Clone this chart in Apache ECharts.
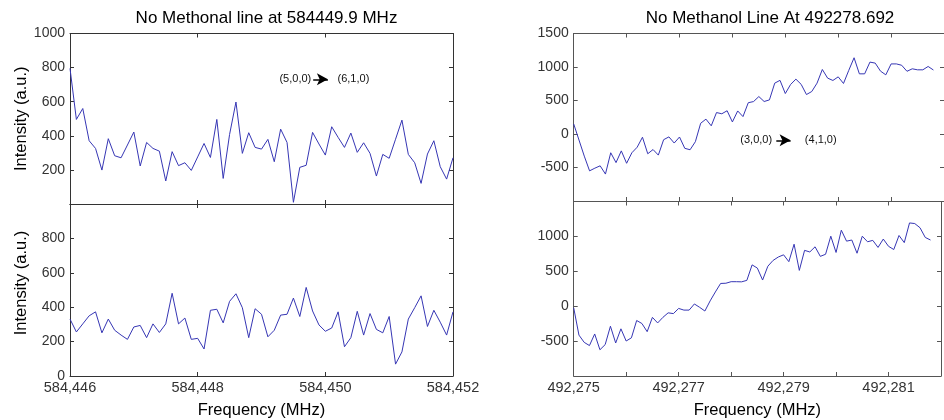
<!DOCTYPE html>
<html>
<head>
<meta charset="utf-8">
<script src="https://cdn.jsdelivr.net/npm/echarts@6/dist/echarts.min.js"></script>
<style>
  html, body { margin: 0; padding: 0; background: #fff; }
  #chart { width: 944px; height: 420px; }
</style>
</head>
<body>
<div id="chart"></div>
<script>
// Spectra sampled every 0.1 MHz, starting at the first channel of each band.
const channelStep = 0.1;
const band584Start = 584446;
const band492Start = 492275;

// 584 GHz band, upper and lower spectra (intensity, a.u.)
const band584Upper = [
  795, 496, 560, 371, 326, 199, 383, 283, 271, 346,
  422, 223, 361, 326, 310, 135, 307, 225, 242, 197,
  276, 355, 273, 496, 150, 408, 598, 297, 418, 332,
  322, 379, 248, 439, 361, 10, 215, 227, 420, 352,
  287, 453, 391, 332, 416, 303, 359, 297, 164, 291,
  268, 380, 492, 291, 242, 121, 293, 371, 219, 146,
  271
];
const band584Lower = [
  331, 256, 303, 350, 373, 251, 331, 266, 238, 213,
  285, 294, 223, 303, 253, 303, 481, 303, 337, 213,
  219, 157, 382, 388, 309, 434, 478, 397, 223, 391,
  359, 228, 266, 354, 359, 453, 346, 515, 378, 297,
  260, 279, 373, 170, 223, 376, 238, 363, 271, 251,
  346, 69, 140, 331, 397, 466, 288, 382, 313, 238,
  373
];

// 492 GHz band, upper and lower spectra (intensity, a.u.)
const band492Upper = [
  150, -90, -330, -550, -510, -475, -598, -280, -427, -252,
  -437, -280, -197, -48, -295, -232, -315, -85, -43, -135,
  -45, -214, -235, -115, 160, 222, 122, 320, 302, 347,
  180, 344, 260, 467, 484, 559, 485, 509, 759, 801,
  604, 739, 819, 741, 589, 634, 759, 963, 834, 799,
  853, 754, 950, 1138, 898, 898, 1073, 1058, 938, 883,
  1046, 1046, 1026, 936, 973, 958, 958, 1008, 955
];
const band492Lower = [
  -23, -414, -518, -564, -398, -624, -550, -287, -527, -324,
  -499, -453, -205, -248, -365, -160, -240, -160, -95, -106,
  -32, -56, -56, 32, -16, -69, 76, 204, 326, 329,
  351, 351, 349, 370, 592, 546, 375, 573, 656, 705,
  736, 638, 888, 513, 800, 777, 851, 714, 744, 1003,
  770, 1089, 932, 948, 759, 1003, 923, 943, 842, 962,
  858, 812, 1013, 911, 1193, 1184, 1124, 985, 948
];

// Axis ranges
const band584Range = [584446, 584452];
const band492Range = [492275, 492282];
const band584Intensity = [0, 1000];
const band492Intensity = [-1000, 1500];

const titles = ['No Methonal line at 584449.9 MHz', 'No Methanol Line At 492278.692'];
const transitions = [['(5,0,0)', '(6,1,0)'], ['(3,0,0)', '(4,1,0)']];
const yName = 'Intensity (a.u.)';
const xName = 'Frequency (MHz)';

function toPairs(start, vals) {
  return vals.map((v, i) => [+(start + i * channelStep).toFixed(1), v]);
}
function withComma(v) {
  const s = String(Math.round(v));
  return s.slice(0, -3) + ',' + s.slice(-3);
}

const FONT = '"Liberation Sans", Arial, Helvetica, sans-serif';
const LINE_COLOR = '#3636b4';

const grids = [
  { left: 70, top: 33.5, width: 383, height: 170.5 },
  { left: 70, top: 204, width: 383, height: 178 },
  { left: 573.7, top: 33.5, width: 382.3, height: 167.5 },
  { left: 573.7, top: 201.5, width: 382.3, height: 180.5 }
];

function frame(color) {
  return {
    axisLine: { show: true, onZero: false, lineStyle: { color: color, width: 1 } },
    axisTick: { show: true, inside: true, length: 4, lineStyle: { color: color, width: 1 } },
    splitLine: { show: false }
  };
}

const xAxes = [];
const yAxes = [];

function addPanel(gi, xr, xInterval, yr, yInterval, opts) {
  const f = frame(opts.frameColor);
  // bottom x axis
  xAxes.push(Object.assign({
    type: 'value', gridIndex: gi, position: 'bottom',
    min: xr[0], max: xr[1], interval: xInterval,
    axisLabel: opts.xLabels ? {
      show: true, margin: 4, fontSize: 14.5, color: '#333', fontFamily: FONT,
      formatter: opts.xFormatter
    } : { show: false },
    name: opts.xLabels ? xName : '',
    nameLocation: 'middle', nameGap: 26, nameMoveOverlap: false,
    nameTextStyle: { fontSize: 16.5, color: '#000', fontFamily: FONT }
  }, f));
  // top frame edge
  xAxes.push(Object.assign({
    type: 'value', gridIndex: gi, position: 'top',
    min: xr[0], max: xr[1], interval: xInterval,
    axisLabel: { show: false }
  }, f));
  // left y axis
  yAxes.push(Object.assign({
    type: 'value', gridIndex: gi, position: 'left',
    min: yr[0], max: yr[1], interval: yInterval,
    axisLabel: {
      show: true, margin: 5, fontSize: 14, color: '#333', fontFamily: FONT,
      showMinLabel: opts.showMin, showMaxLabel: opts.showMax,
      formatter: v => String(v)
    },
    name: opts.yName ? yName : '',
    nameLocation: 'middle', nameGap: 40, nameMoveOverlap: false,
    nameTextStyle: { fontSize: 16.5, color: '#000', fontFamily: FONT, padding: opts.yNamePad || 0 }
  }, f));
  // right frame edge
  yAxes.push(Object.assign({
    type: 'value', gridIndex: gi, position: 'right',
    min: yr[0], max: yr[1], interval: yInterval,
    axisLabel: { show: false }
  }, f));
}

addPanel(0, band584Range, 2, band584Intensity, 200,
  { frameColor: '#333', xLabels: false, showMin: false, showMax: true, yName: true });
addPanel(1, band584Range, 2, band584Intensity, 200,
  { frameColor: '#333', xLabels: true, xFormatter: withComma, showMin: true, showMax: false,
    yName: true, yNamePad: [0, 0, 0, 14] });
addPanel(2, band492Range, 1, band492Intensity, 500,
  { frameColor: '#555', xLabels: false, showMin: false, showMax: true, yName: false });
addPanel(3, band492Range, 1, band492Intensity, 500,
  { frameColor: '#555', xLabels: true,
    xFormatter: v => ((Math.round(v) - band492Start) % 2 === 0 ? withComma(v) : ''),
    showMin: false, showMax: false, yName: false });

function transitionMarks(labels, y, xFrom, xArrowStart, xArrowEnd, xTo) {
  const txt = (x, s) => ({
    coord: [x, y], symbol: 'circle', symbolSize: 0,
    label: { show: true, position: 'inside', formatter: s, color: '#111', fontSize: 11, fontFamily: FONT }
  });
  return {
    markPoint: { silent: true, animation: false, data: [txt(xFrom, labels[0]), txt(xTo, labels[1])] },
    markLine: {
      silent: true, animation: false,
      symbol: ['none', 'arrow'], symbolSize: [9, 11],
      label: { show: false },
      lineStyle: { color: '#000', width: 1.5, type: 'solid' },
      data: [[{ coord: [xArrowStart, y] }, { coord: [xArrowEnd, y] }]]
    }
  };
}

function lineSeries(data, xi, yi, extra) {
  return Object.assign({
    type: 'line', xAxisIndex: xi, yAxisIndex: yi, data: data,
    showSymbol: false, symbol: 'none',
    lineStyle: { color: LINE_COLOR, width: 1 },
    itemStyle: { color: LINE_COLOR },
    animation: false
  }, extra || {});
}

const option = {
  backgroundColor: '#fff',
  animation: false,
  textStyle: { fontFamily: FONT },
  title: [
    { text: titles[0], left: 261.5, top: 5, textAlign: 'center',
      textStyle: { fontSize: 17, fontWeight: 'normal', color: '#000', fontFamily: FONT } },
    { text: titles[1], left: 765, top: 5, textAlign: 'center',
      textStyle: { fontSize: 17, fontWeight: 'normal', color: '#000', fontFamily: FONT } }
  ],
  grid: grids,
  xAxis: xAxes,
  yAxis: yAxes,
  series: [
    lineSeries(toPairs(band584Start, band584Upper), 0, 0,
      transitionMarks(transitions[0], 731, 584449.53, 584449.81, 584450.04, 584450.44)),
    lineSeries(toPairs(band584Start, band584Lower), 2, 2),
    lineSeries(toPairs(band492Start, band492Upper), 4, 4,
      transitionMarks(transitions[1], -94, 492278.45, 492278.83, 492279.10, 492279.67)),
    lineSeries(toPairs(band492Start, band492Lower), 6, 6)
  ]
};

const chart = echarts.init(document.getElementById('chart'), null, { renderer: 'canvas' });
chart.setOption(option);
</script>
</body>
</html>
